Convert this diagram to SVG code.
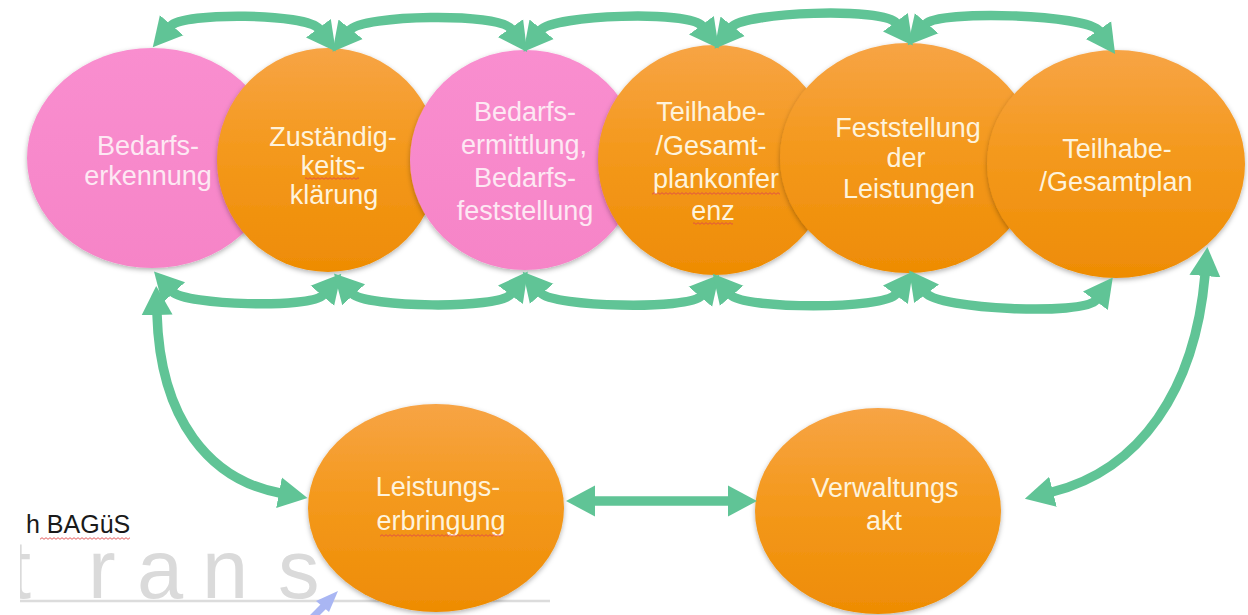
<svg xmlns="http://www.w3.org/2000/svg" width="1248" height="615" viewBox="0 0 1248 615">
<style>
.lbl{font-family:"Liberation Sans",Arial,sans-serif;font-size:27px;text-anchor:middle}
.on{fill:#fef3dc}
.pk{fill:#fde8f3}
.con{fill:none;stroke:#60c496;stroke-width:9.5;marker-start:url(#ah);marker-end:url(#ah)}
.sq{fill:url(#squig)}
</style>
<defs>
<linearGradient id="og" x1="0" y1="0" x2="0" y2="1">
<stop offset="0" stop-color="#f7a445"/>
<stop offset="0.45" stop-color="#f4991d"/>
<stop offset="1" stop-color="#ee8c04"/>
</linearGradient>
<linearGradient id="pg" x1="0" y1="0" x2="0" y2="1">
<stop offset="0" stop-color="#f98ecf"/>
<stop offset="1" stop-color="#f684c7"/>
</linearGradient>
<filter id="sh" x="-10%" y="-10%" width="120%" height="125%">
<feDropShadow dx="0" dy="2" stdDeviation="2.5" flood-color="#000" flood-opacity="0.3"/>
</filter>
<marker id="ah" markerUnits="userSpaceOnUse" markerWidth="31" markerHeight="34" viewBox="-1 -17 31 34" refX="0" refY="0" orient="auto-start-reverse">
<path d="M-1,-15.5 L28,0 L-1,15.5 Z" fill="#60c496"/>
</marker>
<pattern id="squig" width="4" height="3" patternUnits="userSpaceOnUse">
<path d="M0,2.3 L2,0.7 L4,2.3" fill="none" stroke="#e04848" stroke-width="0.9"/>
</pattern>
<clipPath id="wmclip"><rect x="20" y="0" width="1228" height="615"/></clipPath>
</defs>

<rect width="1248" height="615" fill="#ffffff"/>

<g id="background">
<text x="8 88 137 202 278" y="598" font-family="Liberation Sans, Arial, sans-serif" font-size="83" fill="#dadada" clip-path="url(#wmclip)">trans</text>
<line x1="20" y1="601" x2="550" y2="601" stroke="#dcdcdc" stroke-width="2.5"/>
<path d="M305,625 L324,606" stroke="#a9b6f3" stroke-width="7" fill="none"/>
<path d="M338,591 L316,601 L329,612 Z" fill="#a9b6f3"/>
<text x="26" y="533" font-family="Liberation Sans, Arial, sans-serif" font-size="25" fill="#1a1a1a">h BAGüS</text>
<rect x="40" y="537" width="90" height="3" class="sq"/>
</g>

<g id="n1">
<ellipse cx="152" cy="158" rx="125" ry="110" fill="url(#pg)" filter="url(#sh)"/>
<text class="lbl pk" x="148" y="155">Bedarfs-</text>
<text class="lbl pk" x="148" y="185">erkennung</text>
</g>
<g id="n2">
<ellipse cx="328" cy="160" rx="111" ry="112" fill="url(#og)" filter="url(#sh)"/>
<text class="lbl on" x="333" y="146">Zuständig-</text>
<text class="lbl on" x="333" y="175">keits-</text>
<text class="lbl on" x="334" y="204">klärung</text>
<rect x="305" y="177" width="54" height="3" class="sq"/>
</g>
<g id="n3">
<ellipse cx="525" cy="160" rx="115" ry="110" fill="url(#pg)" filter="url(#sh)"/>
<text class="lbl pk" x="525" y="121">Bedarfs-</text>
<text class="lbl pk" x="524" y="154">ermittlung,</text>
<text class="lbl pk" x="525" y="187">Bedarfs-</text>
<text class="lbl pk" x="525" y="220">feststellung</text>
</g>
<g id="n4">
<ellipse cx="715" cy="160" rx="117" ry="115" fill="url(#og)" filter="url(#sh)"/>
<text class="lbl on" x="711" y="121">Teilhabe-</text>
<text class="lbl on" x="711" y="155">/Gesamt-</text>
<text class="lbl on" x="716" y="188">plankonfer</text>
<text class="lbl on" x="713" y="220">enz</text>
<rect x="652" y="192" width="128" height="3" class="sq"/>
<rect x="693" y="222" width="40" height="3" class="sq"/>
</g>
<g id="n5">
<ellipse cx="908" cy="158" rx="128" ry="115" fill="url(#og)" filter="url(#sh)"/>
<text class="lbl on" x="908" y="137">Feststellung</text>
<text class="lbl on" x="906" y="167">der</text>
<text class="lbl on" x="909" y="198">Leistungen</text>
</g>
<g id="n6">
<ellipse cx="1116" cy="164" rx="129" ry="114" fill="url(#og)" filter="url(#sh)"/>
<text class="lbl on" x="1117" y="158">Teilhabe-</text>
<text class="lbl on" x="1116" y="191">/Gesamtplan</text>
</g>
<g id="n7">
<ellipse cx="436" cy="508" rx="128" ry="104" fill="url(#og)" filter="url(#sh)"/>
<text class="lbl on" x="438" y="496">Leistungs-</text>
<text class="lbl on" x="441" y="530">erbringung</text>
<rect x="380" y="534" width="123" height="3" class="sq"/>
</g>
<g id="n8">
<ellipse cx="878" cy="511" rx="123" ry="103" fill="url(#og)" filter="url(#sh)"/>
<text class="lbl on" x="885" y="497">Verwaltungs</text>
<text class="lbl on" x="884" y="530">akt</text>
</g>

<g id="connectors">
<path class="con" d="M171,26 C183,12 307,13 319,29"/>
<path class="con" d="M350,30 C362,15 499,12 511,29"/>
<path class="con" d="M541,30 C553,15 690,10 702,26"/>
<path class="con" d="M732,27 C744,12 884,7 896,23"/>
<path class="con" d="M926,24 C938,10 1087,14 1099,31"/>
<path class="con" d="M173,292 C185,305 311,309 323,295"/>
<path class="con" d="M353,294 C365,307 499,310 511,294"/>
<path class="con" d="M541,293 C553,307 689,310 701,296"/>
<path class="con" d="M731,295 C743,309 884,310 896,294"/>
<path class="con" d="M926,293 C938,309 1084,316 1096,300"/>
<path class="con" d="M157,314 C160,420 210,480 280,493"/>
<path class="con" d="M594,501 L729,501"/>
<path class="con" d="M1205,275 C1195,390 1140,470 1052,492"/>
</g>
</svg>
